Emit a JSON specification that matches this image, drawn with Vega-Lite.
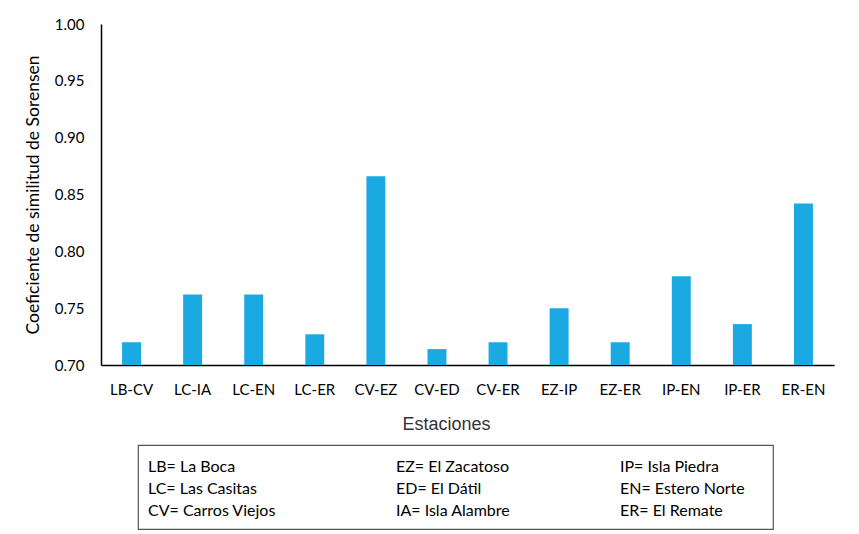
{
  "$schema": "https://vega.github.io/schema/vega-lite/v6.json",
  "background": "white",
  "padding": {"top": 17, "left": 24, "right": 10, "bottom": 5},
  "spacing": 11,
  "datasets": {
    "bars": [
      {"par": "LB-CV", "valor": 0.72},
      {"par": "LC-IA", "valor": 0.762},
      {"par": "LC-EN", "valor": 0.762},
      {"par": "LC-ER", "valor": 0.727},
      {"par": "CV-EZ", "valor": 0.866},
      {"par": "CV-ED", "valor": 0.714},
      {"par": "CV-ER", "valor": 0.72},
      {"par": "EZ-IP", "valor": 0.75},
      {"par": "EZ-ER", "valor": 0.72},
      {"par": "IP-EN", "valor": 0.778},
      {"par": "IP-ER", "valor": 0.736},
      {"par": "ER-EN", "valor": 0.842}
    ],
    "leyenda": [
      {"col": "c1", "fila": "r1", "texto": "LB= La Boca"},
      {"col": "c1", "fila": "r2", "texto": "LC= Las Casitas"},
      {"col": "c1", "fila": "r3", "texto": "CV= Carros Viejos"},
      {"col": "c2", "fila": "r1", "texto": "EZ= El Zacatoso"},
      {"col": "c2", "fila": "r2", "texto": "ED= El Dátil"},
      {"col": "c2", "fila": "r3", "texto": "IA= Isla Alambre"},
      {"col": "c3", "fila": "r1", "texto": "IP= Isla Piedra"},
      {"col": "c3", "fila": "r2", "texto": "EN= Estero Norte"},
      {"col": "c3", "fila": "r3", "texto": "ER= El Remate"}
    ]
  },
  "vconcat": [
    {
      "width": 733,
      "height": 341,
      "view": {"stroke": null},
      "data": {"name": "bars"},
      "mark": {"type": "bar", "color": "#1BA9E1"},
      "encoding": {
        "x": {
          "field": "par",
          "type": "nominal",
          "sort": null,
          "scale": {"paddingInner": 0.69, "paddingOuter": 0.345},
          "axis": {
            "title": "Estaciones",
            "titleFont": "Liberation Sans",
            "titleFontSize": 18,
            "titleFontWeight": "normal",
            "titleColor": "#333333",
            "titlePadding": 18,
            "titleX": 345,
            "labelAngle": 0,
            "labelFont": "Lato",
            "labelFontSize": 15,
            "labelColor": "#000000",
            "labelPadding": 17,
            "ticks": false,
            "domainColor": "#000000",
            "domainWidth": 1.5
          }
        },
        "y": {
          "field": "valor",
          "type": "quantitative",
          "scale": {"domain": [0.7, 1.0], "zero": false, "nice": false},
          "axis": {
            "title": "Coeficiente de similitud de Sorensen",
            "titleFont": "Lato",
            "titleFontSize": 17.5,
            "titleFontWeight": "normal",
            "titleColor": "#000000",
            "titlePadding": 12,
            "values": [0.7, 0.75, 0.8, 0.85, 0.9, 0.95, 1.0],
            "format": ".2f",
            "labelFont": "Lato",
            "labelFontSize": 15,
            "labelColor": "#000000",
            "labelPadding": 17,
            "ticks": false,
            "grid": false,
            "domainColor": "#000000",
            "domainWidth": 1.5
          }
        },
        "y2": {"datum": 0.7}
      }
    },
    {
      "spacing": 16,
      "hconcat": [
        {
          "width": 20,
          "height": 84,
          "view": {"stroke": null},
          "data": {"values": []},
          "mark": "point",
          "encoding": {}
        },
        {
          "width": 635,
          "height": 84,
          "view": {"stroke": "#555555", "strokeWidth": 1.2},
          "data": {"name": "leyenda"},
          "encoding": {
            "x": {"field": "col", "type": "nominal", "scale": {"type": "point", "range": [10, 482], "padding": 0}, "axis": null},
            "y": {"field": "fila", "type": "nominal", "scale": {"type": "point", "range": [22, 66], "padding": 0}, "axis": null},
            "text": {"field": "texto"}
          },
          "layer": [
            {
              "transform": [{"filter": "datum.col !== 'c2'"}],
              "mark": {"type": "text", "align": "left", "baseline": "middle", "font": "Lato", "fontSize": 16, "color": "#000000"}
            },
            {
              "transform": [{"filter": "datum.col === 'c2'"}],
              "mark": {"type": "text", "align": "left", "baseline": "middle", "dx": 12, "font": "Lato", "fontSize": 16, "color": "#000000"}
            }
          ]
        }
      ]
    }
  ]
}
